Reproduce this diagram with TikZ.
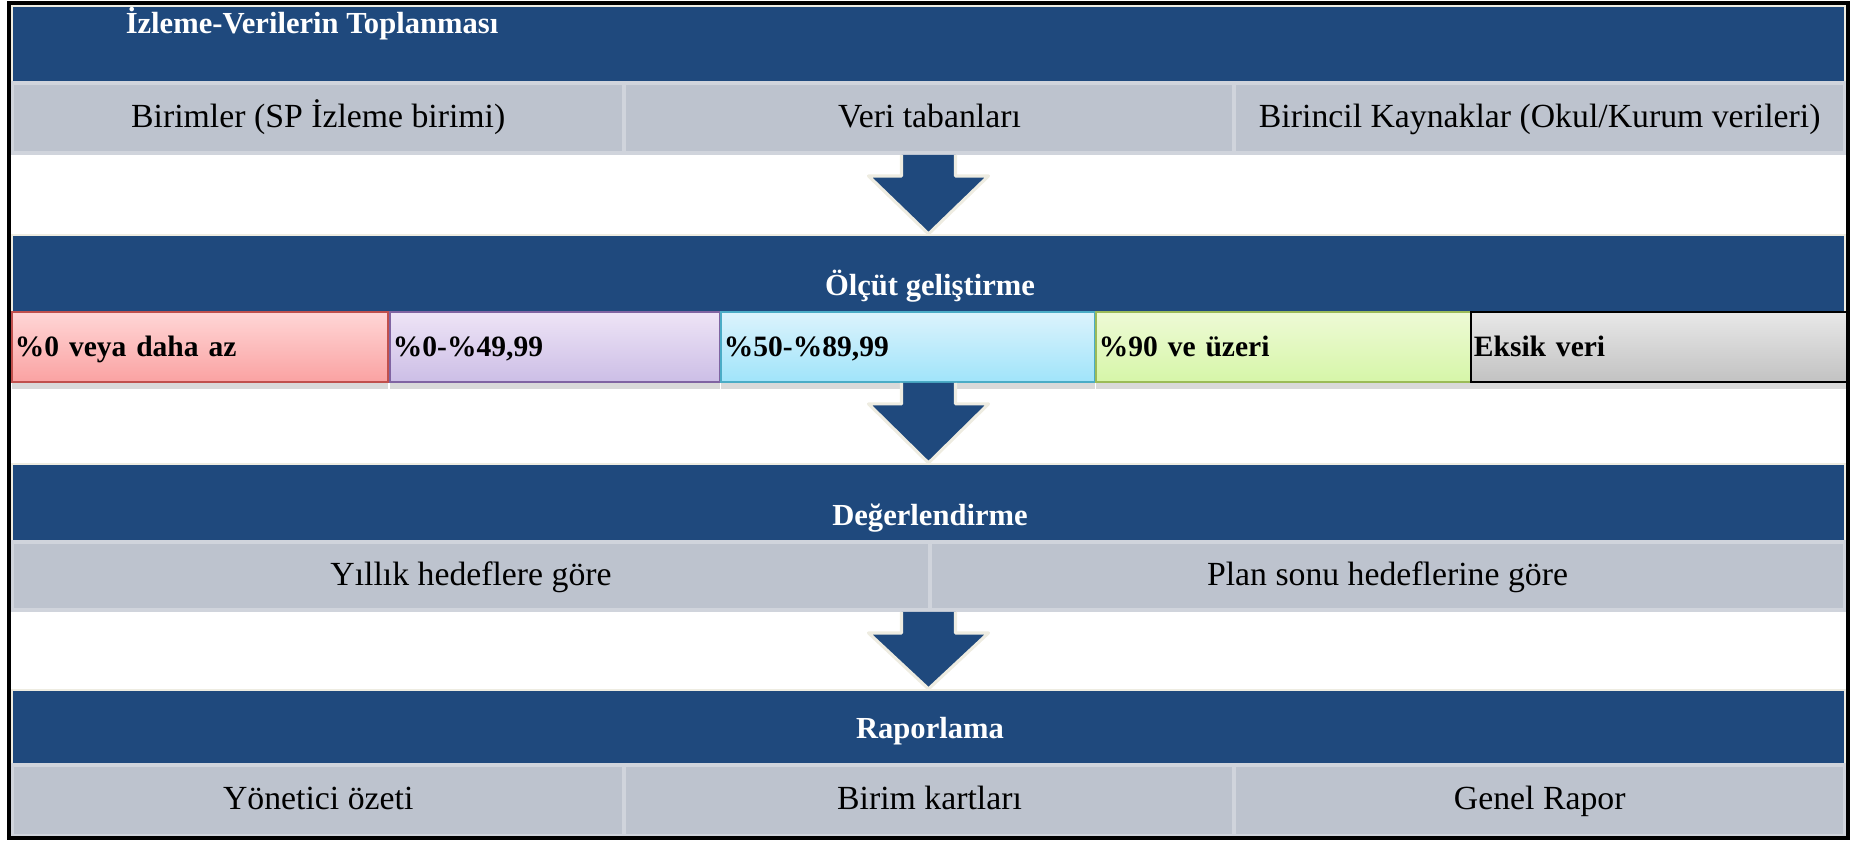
\documentclass[tikz,border=0pt]{standalone}
\usepackage{fontspec}
\setmainfont{Liberation Serif}
\usetikzlibrary{calc,shadows}
\definecolor{hblue}{RGB}{31,73,125}
\definecolor{hbeige}{RGB}{238,236,225}
\definecolor{rowgray}{RGB}{189,195,206}
\definecolor{rowline}{RGB}{208,212,220}
\definecolor{redtop}{RGB}{255,214,214}
\definecolor{redbot}{RGB}{250,162,162}
\definecolor{redline}{RGB}{192,80,77}
\definecolor{purtop}{RGB}{238,228,246}
\definecolor{purbot}{RGB}{204,190,230}
\definecolor{purline}{RGB}{128,100,162}
\definecolor{cyantop}{RGB}{220,243,252}
\definecolor{cyanbot}{RGB}{160,228,250}
\definecolor{cyanline}{RGB}{75,172,198}
\definecolor{grntop}{RGB}{238,250,214}
\definecolor{grnbot}{RGB}{214,246,168}
\definecolor{grnline}{RGB}{155,187,89}
\definecolor{gratop}{RGB}{232,232,232}
\definecolor{grabot}{RGB}{194,194,194}
\begin{document}
\begin{tikzpicture}[x=0.01cm,y=-0.01cm,
  band/.style={fill=hblue,draw=hbeige,line width=0.6pt,minimum width=18.33cm,inner sep=0},
  headtext/.style={text=white,inner sep=0,text height=1.6ex,text depth=0.4ex,font=\bfseries\fontsize{8.7}{10}\selectfont},
  cell/.style={fill=rowgray,draw=rowline,line width=1.1pt,inner sep=0,text height=1.6ex,text depth=0.45ex,font=\fontsize{9.6}{12}\selectfont},
  gradecell/.style n args={3}{top color=#1,bottom color=#2,draw=#3,line width=0.5pt,
    inner sep=0,inner xsep=0.03cm,minimum height=0.7cm,align=left,text height=1.6ex,text depth=0.4ex,
    font=\bfseries\fontsize{8.4}{10}\selectfont,
    drop shadow={shadow xshift=0cm,shadow yshift=-0.07cm,opacity=0.3}},
  bigarrow/.style={fill=hblue,draw=hbeige,line width=0.9pt,line join=round}]
\useasboundingbox (0,0) rectangle (1865,841);

% collecting
\node[band,minimum height=0.76cm] (b1) at (928.5,44) {};
\node[headtext] (h1) at (312,24) {İzleme-Verilerin Toplanması};
\node[cell,minimum width=6.125cm,minimum height=0.7cm] (r1a) at (318.25,118) {Birimler (SP İzleme birimi)};
\node[cell,minimum width=6.1cm,minimum height=0.7cm] (r1b) at (929.5,118) {Veri tabanları};
\node[cell,minimum width=6.105cm,minimum height=0.7cm] (r1c) at (1539.75,118) {Birincil Kaynaklar (Okul/Kurum verileri)};

% criteria
\node[band,minimum height=0.77cm] (b2) at (928.5,273.5) {};
\node[headtext] (h2) at (930,286) {Ölçüt geliştirme};
\node[gradecell={redtop}{redbot}{redline},text width=3.70cm] (c1) at (200,347) {\%0 veya daha az};
\node[gradecell={purtop}{purbot}{purline},text width=3.24cm] (c2) at (555,347) {\%0-\%49,99};
\node[gradecell={cyantop}{cyanbot}{cyanline},text width=3.68cm] (c3) at (908,347) {\%50-\%89,99};
\node[gradecell={grntop}{grnbot}{grnline},text width=3.69cm] (c4) at (1283.5,347) {\%90 ve üzeri};
\node[gradecell={gratop}{grabot}{black},text width=3.70cm] (c5) at (1659,347) {Eksik veri};

% evaluation
\node[band,minimum height=0.78cm] (b3) at (928.5,503) {};
\node[headtext] (h3) at (930,516) {Değerlendirme};
\node[cell,minimum width=9.18cm,minimum height=0.68cm] (r3a) at (471,576) {Yıllık hedeflere göre};
\node[cell,minimum width=9.15cm,minimum height=0.68cm] (r3b) at (1387.5,576) {Plan sonu hedeflerine göre};

% reporting
\node[band,minimum height=0.75cm] (b4) at (928.5,727.5) {};
\node[headtext] (h4) at (930,729) {Raporlama};
\node[cell,minimum width=6.125cm,minimum height=0.71cm] (r4a) at (318.25,800.5) {Yönetici özeti};
\node[cell,minimum width=6.1cm,minimum height=0.71cm] (r4b) at (929.5,800.5) {Birim kartları};
\node[cell,minimum width=6.105cm,minimum height=0.71cm] (r4c) at (1539.75,800.5) {Genel Rapor};

% arrows
\coordinate (a1) at (b2.north |- r1b.south);
\coordinate (a2) at (b3.north |- c3.south);
\coordinate (a3) at (b4.north |- r3b.south);
\path[bigarrow] ($(a1)+(-27,0)$) -- ++(0,21) -- ++(-33,0) -- (b2.north) -- ($(a1)+(60,21)$) -- ++(-33,0) -- ++(0,-21);
\path[bigarrow] ($(a2)+(-27,0)$) -- ++(0,21) -- ++(-33,0) -- (b3.north) -- ($(a2)+(60,21)$) -- ++(-33,0) -- ++(0,-21);
\path[bigarrow] ($(a3)+(-27,0)$) -- ++(0,21) -- ++(-33,0) -- (b4.north) -- ($(a3)+(60,21)$) -- ++(-33,0) -- ++(0,-21);

\draw[line width=0.9pt] (9,3) rectangle (1848,838);
\end{tikzpicture}
\end{document}
